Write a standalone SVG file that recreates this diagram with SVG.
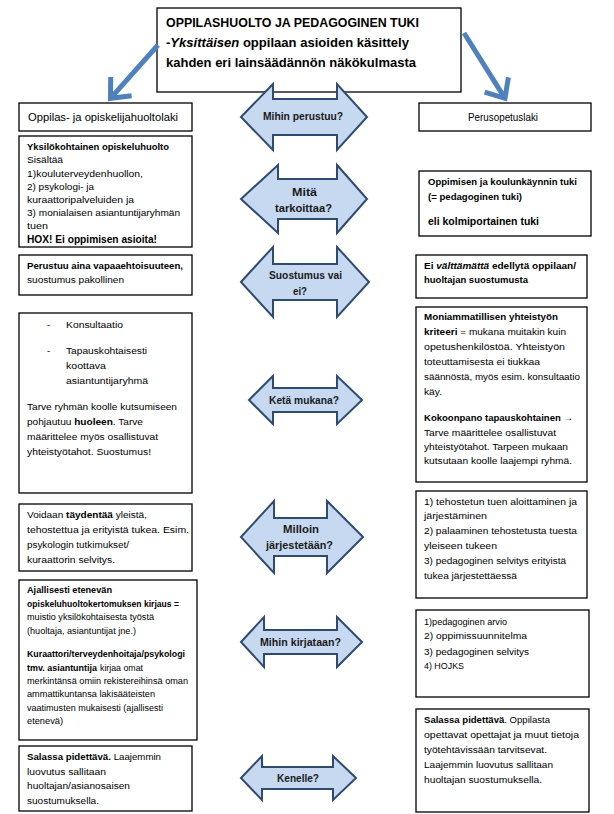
<svg xmlns="http://www.w3.org/2000/svg" width="614" height="814" viewBox="0 0 614 814">
<defs>
<style>
.box{fill:#fff;stroke:#000;stroke-width:1.3}
.t{font-family:"Liberation Sans",Arial,sans-serif;font-size:9.6px;fill:#000}
.b{font-weight:bold}
.i{font-style:italic}
.ttl{font-family:"Liberation Sans",Arial,sans-serif;font-size:12.8px;font-weight:bold;fill:#000}
.hd{font-family:"Liberation Sans",Arial,sans-serif;font-size:11px;fill:#000}
.dbl{fill:#c6d9f1;stroke:#2f4b6e;stroke-width:2;stroke-linejoin:miter}
.lbl{font-family:"Liberation Sans",Arial,sans-serif;font-size:10.5px;font-weight:bold;fill:#1a1a1a;text-anchor:middle}
.blue{fill:none;stroke:#4f81bd;stroke-width:5}
</style>
<marker id="chev" viewBox="-22 -20 26 40" refX="0" refY="0" markerWidth="26" markerHeight="40" markerUnits="userSpaceOnUse" orient="auto">
<path d="M-16,-14 L0,0 L-16,14" fill="none" stroke="#4f81bd" stroke-width="5"/>
</marker>
</defs>
<rect width="614" height="814" fill="#fff"/>

<g id="title">
<rect class="box" x="157" y="8" width="304" height="84"/>
<text class="ttl" x="166" y="27" textLength="253" lengthAdjust="spacingAndGlyphs">OPPILASHUOLTO JA PEDAGOGINEN TUKI</text>
<text class="ttl" x="166" y="47" textLength="243" lengthAdjust="spacingAndGlyphs">-<tspan class="i">Yksittäisen</tspan> oppilaan asioiden käsittely</text>
<text class="ttl" x="166" y="67" textLength="250" lengthAdjust="spacingAndGlyphs">kahden eri lainsäädännön näkökulmasta</text>
</g>

<g id="connectors">
<path class="blue" d="M158,45 L110.5,98.3" marker-end="url(#chev)"/>
<path class="blue" d="M464,33 L505,98.3" marker-end="url(#chev)"/>
</g>

<g id="left-head">
<rect class="box" x="19" y="103" width="173" height="28"/>
<text class="hd" x="28" y="121" textLength="150" lengthAdjust="spacingAndGlyphs">Oppilas- ja opiskelijahuoltolaki</text>
</g>
<g id="right-head">
<rect class="box" x="419" y="103" width="172" height="28"/>
<text class="hd" x="503" y="121" text-anchor="middle" textLength="70" lengthAdjust="spacingAndGlyphs">Perusopetuslaki</text>
</g>

<g id="arrow-perustuu">
<path class="dbl" d="M241,117 L273,84 L273,99 L337,99 L337,84 L367,117 L337,150 L337,135 L273,135 L273,150 Z"/>
<text class="lbl" x="303" y="120" textLength="80" lengthAdjust="spacingAndGlyphs">Mihin perustuu?</text>
</g>
<g id="arrow-tarkoittaa">
<path class="dbl" d="M241,199 L278,165 L278,179 L337,179 L337,165 L367,199 L337,233 L337,219 L278,219 L278,233 Z"/>
<text class="lbl" x="304.5" y="196" textLength="25" lengthAdjust="spacingAndGlyphs">Mitä</text>
<text class="lbl" x="303.5" y="212" textLength="57" lengthAdjust="spacingAndGlyphs">tarkoittaa?</text>
</g>
<g id="arrow-suostumus">
<path class="dbl" d="M241,282 L273,247 L273,264 L337,264 L337,247 L369,282 L337,317 L337,300 L273,300 L273,317 Z"/>
<text class="lbl" x="305.5" y="279" textLength="73" lengthAdjust="spacingAndGlyphs">Suostumus vai</text>
<text class="lbl" x="300" y="295" textLength="14" lengthAdjust="spacingAndGlyphs">ei?</text>
</g>
<g id="arrow-keta">
<path class="dbl" d="M249,400 L273,376 L273,388 L337,388 L337,376 L362,400 L337,424 L337,412 L273,412 L273,424 Z"/>
<text class="lbl" x="304" y="404" textLength="70" lengthAdjust="spacingAndGlyphs">Ketä mukana?</text>
</g>
<g id="arrow-milloin">
<path class="dbl" d="M241,537 L274,501 L274,518 L327,518 L327,501 L363,537 L327,573 L327,556 L274,556 L274,573 Z"/>
<text class="lbl" x="301" y="533" textLength="36" lengthAdjust="spacingAndGlyphs">Milloin</text>
<text class="lbl" x="299.5" y="549" textLength="67" lengthAdjust="spacingAndGlyphs">järjestetään?</text>
</g>
<g id="arrow-kirjataan">
<path class="dbl" d="M241,642 L264,617 L264,630 L337,630 L337,617 L362,642 L337,667 L337,654 L264,654 L264,667 Z"/>
<text class="lbl" x="300.5" y="646" textLength="81" lengthAdjust="spacingAndGlyphs">Mihin kirjataan?</text>
</g>
<g id="arrow-kenelle">
<path class="dbl" d="M241,778 L262,756 L262,767 L333,767 L333,756 L356,778 L333,800 L333,789 L262,789 L262,800 Z"/>
<text class="lbl" x="298" y="782" textLength="42" lengthAdjust="spacingAndGlyphs">Kenelle?</text>
</g>

<g id="left-1">
<rect class="box" x="19" y="136" width="173" height="111"/>
<text class="t b" x="27" y="150" textLength="142" lengthAdjust="spacingAndGlyphs">Yksilökohtainen opiskeluhuolto</text>
<text class="t" x="27" y="163" textLength="36" lengthAdjust="spacingAndGlyphs">Sisältää</text>
<text class="t" x="27" y="177" textLength="116" lengthAdjust="spacingAndGlyphs">1)kouluterveydenhuollon,</text>
<text class="t" x="27" y="190" textLength="67" lengthAdjust="spacingAndGlyphs">2) psykologi- ja</text>
<text class="t" x="27" y="203" textLength="107" lengthAdjust="spacingAndGlyphs">kuraattoripalveluiden ja</text>
<text class="t" x="27" y="216" textLength="153" lengthAdjust="spacingAndGlyphs">3) monialaisen asiantuntijaryhmän</text>
<text class="t" x="27" y="229" textLength="21" lengthAdjust="spacingAndGlyphs">tuen</text>
<text class="t b" x="27" y="243" style="font-size:10.5px" textLength="130" lengthAdjust="spacingAndGlyphs">HOX! Ei oppimisen asioita!</text>
</g>

<g id="left-2">
<rect class="box" x="19" y="255" width="173" height="40"/>
<text class="t b" x="27" y="269" textLength="156" lengthAdjust="spacingAndGlyphs">Perustuu aina vapaaehtoisuuteen,</text>
<text class="t" x="27" y="283" textLength="97" lengthAdjust="spacingAndGlyphs">suostumus pakollinen</text>
</g>

<g id="left-3">
<rect class="box" x="19" y="313" width="173" height="180"/>
<text class="t" x="47" y="328">-</text>
<text class="t" x="66" y="328" textLength="57" lengthAdjust="spacingAndGlyphs">Konsultaatio</text>
<text class="t" x="47" y="354">-</text>
<text class="t" x="66" y="354" textLength="81" lengthAdjust="spacingAndGlyphs">Tapauskohtaisesti</text>
<text class="t" x="66" y="369" textLength="40" lengthAdjust="spacingAndGlyphs">koottava</text>
<text class="t" x="66" y="384" textLength="82" lengthAdjust="spacingAndGlyphs">asiantuntijaryhmä</text>
<text class="t" x="27" y="410" textLength="150" lengthAdjust="spacingAndGlyphs">Tarve ryhmän koolle kutsumiseen</text>
<text class="t" x="27" y="425" textLength="116" lengthAdjust="spacingAndGlyphs">pohjautuu <tspan class="b">huoleen</tspan>. Tarve</text>
<text class="t" x="27" y="440" textLength="131" lengthAdjust="spacingAndGlyphs">määrittelee myös osallistuvat</text>
<text class="t" x="27" y="455" textLength="124" lengthAdjust="spacingAndGlyphs">yhteistyötahot. Suostumus!</text>
</g>

<g id="left-4">
<rect class="box" x="19" y="504" width="173" height="67"/>
<text class="t" x="27" y="518" textLength="120" lengthAdjust="spacingAndGlyphs">Voidaan <tspan class="b">täydentää</tspan> yleistä,</text>
<text class="t" x="27" y="533" textLength="162" lengthAdjust="spacingAndGlyphs">tehostettua ja erityistä tukea. Esim.</text>
<text class="t" x="27" y="548" textLength="102" lengthAdjust="spacingAndGlyphs">psykologin tutkimukset/</text>
<text class="t" x="27" y="563" textLength="88" lengthAdjust="spacingAndGlyphs">kuraattorin selvitys.</text>
</g>

<g id="left-5">
<rect class="box" x="19" y="580" width="178" height="160"/>
<text class="t b" x="27" y="593" textLength="85" lengthAdjust="spacingAndGlyphs">Ajallisesti etenevän</text>
<text class="t b" x="27" y="607" textLength="152" lengthAdjust="spacingAndGlyphs">opiskeluhuoltokertomuksen kirjaus =</text>
<text class="t" x="27" y="620" textLength="127" lengthAdjust="spacingAndGlyphs">muistio yksilökohtaisesta työstä</text>
<text class="t" x="27" y="634" textLength="109" lengthAdjust="spacingAndGlyphs">(huoltaja, asiantuntijat jne.)</text>
<text class="t b" x="27" y="657" textLength="158" lengthAdjust="spacingAndGlyphs">Kuraattori/terveydenhoitaja/psykologi</text>
<text class="t b" x="27" y="671" textLength="70" lengthAdjust="spacingAndGlyphs">tmv. asiantuntija</text>
<text class="t" x="100" y="671" textLength="43" lengthAdjust="spacingAndGlyphs">kirjaa omat</text>
<text class="t" x="27" y="684" textLength="161" lengthAdjust="spacingAndGlyphs">merkintänsä omiin rekistereihinsä oman</text>
<text class="t" x="27" y="697" textLength="128" lengthAdjust="spacingAndGlyphs">ammattikuntansa lakisääteisten</text>
<text class="t" x="27" y="711" textLength="136" lengthAdjust="spacingAndGlyphs">vaatimusten mukaisesti (ajallisesti</text>
<text class="t" x="27" y="724" textLength="36" lengthAdjust="spacingAndGlyphs">etenevä)</text>
</g>

<g id="left-6">
<rect class="box" x="19" y="746" width="173" height="65"/>
<text class="t" x="27" y="760" textLength="134" lengthAdjust="spacingAndGlyphs"><tspan class="b">Salassa pidettävä.</tspan> Laajemmin</text>
<text class="t" x="27" y="775" textLength="79" lengthAdjust="spacingAndGlyphs">luovutus sallitaan</text>
<text class="t" x="27" y="789" textLength="103" lengthAdjust="spacingAndGlyphs">huoltajan/asianosaisen</text>
<text class="t" x="27" y="804" textLength="72" lengthAdjust="spacingAndGlyphs">suostumuksella.</text>
</g>

<g id="right-1">
<rect class="box" x="419" y="171" width="172" height="65"/>
<text class="t b" x="428" y="185" textLength="149" lengthAdjust="spacingAndGlyphs">Oppimisen ja koulunkäynnin tuki</text>
<text class="t b" x="428" y="200" textLength="94" lengthAdjust="spacingAndGlyphs">(= pedagoginen tuki)</text>
<text class="t b" x="428" y="225" style="font-size:10.3px" textLength="111" lengthAdjust="spacingAndGlyphs">eli kolmiportainen  tuki</text>
</g>

<g id="right-2">
<rect class="box" x="416" y="255" width="171" height="43"/>
<text class="t b" x="424" y="269" textLength="152" lengthAdjust="spacingAndGlyphs">Ei <tspan class="i">välttämättä</tspan> edellytä oppilaan/</text>
<text class="t b" x="424" y="283" textLength="104" lengthAdjust="spacingAndGlyphs">huoltajan suostumusta</text>
</g>

<g id="right-3">
<rect class="box" x="416" y="307" width="171" height="175"/>
<text class="t b" x="424" y="320" textLength="134" lengthAdjust="spacingAndGlyphs">Moniammatillisen yhteistyön</text>
<text class="t" x="424" y="335" textLength="142" lengthAdjust="spacingAndGlyphs"><tspan class="b">kriteeri</tspan> = mukana muitakin kuin</text>
<text class="t" x="424" y="350" textLength="141" lengthAdjust="spacingAndGlyphs">opetushenkilöstöä.  Yhteistyön</text>
<text class="t" x="424" y="365" textLength="116" lengthAdjust="spacingAndGlyphs">toteuttamisesta ei tiukkaa</text>
<text class="t" x="424" y="380" textLength="156" lengthAdjust="spacingAndGlyphs">säännöstä, myös esim. konsultaatio</text>
<text class="t" x="424" y="395" textLength="18" lengthAdjust="spacingAndGlyphs">käy.</text>
<text class="t b" x="424" y="421" textLength="149" lengthAdjust="spacingAndGlyphs">Kokoonpano tapauskohtainen →</text>
<text class="t" x="424" y="436" textLength="132" lengthAdjust="spacingAndGlyphs">Tarve määrittelee osallistuvat</text>
<text class="t" x="424" y="450" textLength="144" lengthAdjust="spacingAndGlyphs">yhteistyötahot. Tarpeen mukaan</text>
<text class="t" x="424" y="464" textLength="148" lengthAdjust="spacingAndGlyphs">kutsutaan koolle laajempi ryhmä.</text>
</g>

<g id="right-4">
<rect class="box" x="416" y="491" width="171" height="107"/>
<text class="t" x="424" y="505" textLength="153" lengthAdjust="spacingAndGlyphs">1) tehostetun tuen aloittaminen ja</text>
<text class="t" x="424" y="519" textLength="63" lengthAdjust="spacingAndGlyphs">järjestäminen</text>
<text class="t" x="424" y="534" textLength="153" lengthAdjust="spacingAndGlyphs">2) palaaminen tehostetusta tuesta</text>
<text class="t" x="424" y="549" textLength="73" lengthAdjust="spacingAndGlyphs">yleiseen  tukeen</text>
<text class="t" x="424" y="564" textLength="142" lengthAdjust="spacingAndGlyphs">3) pedagoginen selvitys erityistä</text>
<text class="t" x="424" y="579" textLength="93" lengthAdjust="spacingAndGlyphs">tukea järjestettäessä</text>
</g>

<g id="right-5">
<rect class="box" x="416" y="610" width="173" height="87"/>
<text class="t" x="424" y="625" textLength="83" lengthAdjust="spacingAndGlyphs">1)pedagoginen arvio</text>
<text class="t" x="424" y="639" textLength="103" lengthAdjust="spacingAndGlyphs">2) oppimissuunnitelma</text>
<text class="t" x="424" y="655" textLength="105" lengthAdjust="spacingAndGlyphs">3) pedagoginen selvitys</text>
<text class="t" x="424" y="669" textLength="40" lengthAdjust="spacingAndGlyphs">4) HOJKS</text>
</g>

<g id="right-6">
<rect class="box" x="416" y="709" width="173" height="103"/>
<text class="t" x="424" y="723" textLength="126" lengthAdjust="spacingAndGlyphs"><tspan class="b">Salassa pidettävä</tspan>. Oppilasta</text>
<text class="t" x="424" y="738" textLength="155" lengthAdjust="spacingAndGlyphs">opettavat opettajat ja muut tietoja</text>
<text class="t" x="424" y="753" textLength="123" lengthAdjust="spacingAndGlyphs">työtehtävissään tarvitsevat.</text>
<text class="t" x="424" y="768" textLength="129" lengthAdjust="spacingAndGlyphs">Laajemmin luovutus sallitaan</text>
<text class="t" x="424" y="783" textLength="118" lengthAdjust="spacingAndGlyphs">huoltajan suostumuksella.</text>
</g>
</svg>
